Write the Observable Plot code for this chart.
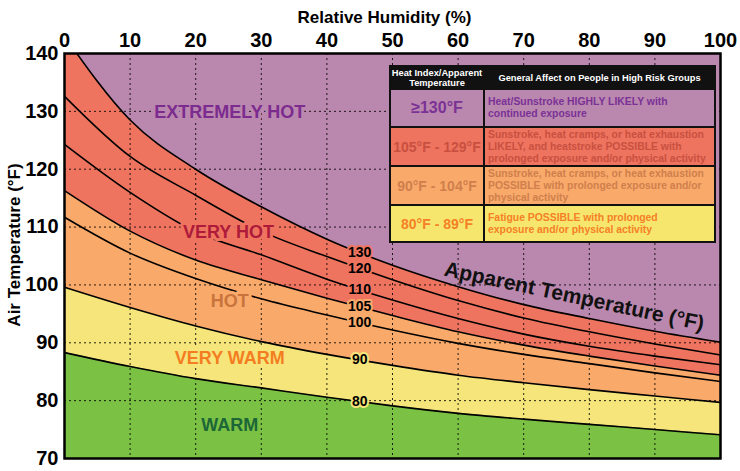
<!DOCTYPE html>
<html><head><meta charset="utf-8">
<script src="https://cdn.jsdelivr.net/npm/d3@7"></script>
<script src="https://cdn.jsdelivr.net/npm/@observablehq/plot@0.6"></script>
<style>
html,body{margin:0;padding:0;background:#fff;}
#wrap{position:relative;width:740px;height:471px;font-family:"Liberation Sans",Arial,Helvetica,sans-serif;overflow:hidden;}
#wrap svg g[aria-label="x-axis tick label"],
#wrap svg g[aria-label="y-axis tick label"]{font-size:20px;font-weight:bold;fill:#000;}
#legend{position:absolute;left:389px;top:65px;width:327px;background:#111;padding:2px;box-sizing:border-box;display:flex;flex-direction:column;gap:2px;}
#legend .row{display:flex;gap:2px;}
#legend .c1{width:92px;display:flex;align-items:center;justify-content:center;text-align:center;font-weight:bold;}
#legend .c2{flex:1;display:flex;align-items:center;padding-left:3px;font-weight:bold;font-size:10.4px;line-height:12px;white-space:pre-line;}
#legend .hdr .c1,#legend .hdr .c2{color:#fff;font-size:9.3px;line-height:10px;background:#111;}
#legend .hdr .c2{justify-content:center;padding-left:0;}
</style></head><body>
<div id="wrap"></div>
<script>
// ---- data ----
const humidity = [0, 10, 20, 30, 40, 50, 60, 70, 80, 90, 100];
const t80  = [88.3, 85.9, 83.8, 82.2, 80.6, 79.1, 77.8, 76.8, 75.9, 75.0, 74.1];
const t90  = [99.6, 96.1, 92.9, 90.2, 88.0, 86.1, 84.4, 83.1, 81.9, 80.8, 79.7];
const t100 = [111.7, 105.5, 101.1, 97.6, 94.8, 92.2, 89.9, 88.0, 86.4, 84.8, 83.3];
const t105 = [116.3, 109.3, 104.3, 100.9, 97.7, 94.7, 91.9, 89.6, 87.7, 86.0, 84.4];
const t110 = [124.3, 116.0, 109.2, 105.2, 101.0, 97.4, 94.2, 91.5, 89.4, 87.7, 86.2];
const t120 = [132.6, 122.2, 115.5, 109.3, 104.9, 100.9, 97.3, 94.3, 91.9, 89.8, 87.9];
const t130 = [143.0, 128.5, 120.0, 113.5, 107.9, 103.4, 99.7, 96.6, 94.2, 92.0, 90.1];

const xTicks = [0, 10, 20, 30, 40, 50, 60, 70, 80, 90, 100];
const yTicks = [70, 80, 90, 100, 110, 120, 130, 140];
const xGrid = [10, 20, 30, 40, 50, 60, 70, 80, 90];
const yGrid = [80, 90, 100, 110, 120, 130];

const curveNames = ["130", "120", "110", "105", "100", "90", "80"];
const regionNames = ["EXTREMELY HOT", "VERY HOT", "HOT", "VERY WARM", "WARM"];
const regionRH = [25.2, 25, 25.2, 25.2, 25.2];
const regionT = [129.8, 109.1, 97.2, 87.3, 75.8];

const legendRanges = ["\u2265130\u00B0F", "105\u00B0F - 129\u00B0F", "90\u00B0F - 104\u00B0F", "80\u00B0F - 89\u00B0F"];
const legendEffects = [
  "Heat/Sunstroke HIGHLY LIKELY with\ncontinued exposure",
  "Sunstroke, heat cramps, or heat exhaustion\nLIKELY, and heatstroke POSSIBLE with\nprolonged exposure and/or physical activity",
  "Sunstroke, heat cramps, or heat exhaustion\nPOSSIBLE with prolonged exposure and/or\nphysical activity",
  "Fatigue POSSIBLE with prolonged\nexposure and/or physical activity"
];

// ---- styles ----
const C = {purple: "#BA87AE", red: "#EE745F", orange: "#F9AA6B", yellow: "#F5E57A", green: "#7BC144"};
const regionColors = ["#7B2C8E", "#AE1A3A", "#C9743C", "#F47D22", "#1C6638"];
const regionHalo = [C.purple, C.red, C.orange, C.yellow, C.green];
const legendBg = [C.purple, C.red, C.orange, "#F6E66E"];
const legendText = ["#7A3296", "#C9503F", "#D07F4C", "#F58026"];
const legendRangeSize = [16, 14, 14, 14];

const rows = humidity.map((h, i) => ({rh: h, c80: t80[i], c90: t90[i], c100: t100[i], c105: t105[i], c110: t110[i], c120: t120[i], c130: t130[i]}));
const curves = [t130, t120, t110, t105, t100, t90, t80];
const curveHalo = [C.red, C.red, C.red, C.orange, C.orange, C.yellow, C.yellow];
const curveLabels = curveNames.map((n, i) => ({name: n, rh: (humidity[4] + humidity[5]) / 2, t: (curves[i][4] + curves[i][5]) / 2, halo: curveHalo[i]}));
const regions = regionNames.map((n, i) => ({name: n, rh: regionRH[i], t: regionT[i], color: regionColors[i], halo: regionHalo[i]}));

const cv = "monotone-x";
const marks = [
  Plot.frame({fill: C.purple, stroke: null}),
  Plot.areaY(rows, {x: "rh", y1: "c105", y2: "c130", fill: C.red, curve: cv, clip: true}),
  Plot.areaY(rows, {x: "rh", y1: "c90", y2: "c105", fill: C.orange, curve: cv, clip: true}),
  Plot.areaY(rows, {x: "rh", y1: "c80", y2: "c90", fill: C.yellow, curve: cv, clip: true}),
  Plot.areaY(rows, {x: "rh", y1: () => yTicks[0], y2: "c80", fill: C.green, curve: cv, clip: true}),
  Plot.gridX({ticks: xGrid, stroke: "#000", strokeOpacity: 0.85, strokeDasharray: "2,3", strokeWidth: 1}),
  Plot.gridY({ticks: yGrid, stroke: "#000", strokeOpacity: 0.85, strokeDasharray: "2,3", strokeWidth: 1}),
  ...["c130", "c120", "c110", "c105", "c100", "c90", "c80"].map(k =>
    Plot.line(rows, {x: "rh", y: k, stroke: "#000", strokeWidth: 1.6, curve: cv, clip: true})),
  Plot.text(curveLabels, {x: "rh", y: "t", text: "name", fontSize: 14, fontWeight: "bold", fill: "#000", stroke: d => d.halo, strokeWidth: 4, textAnchor: "middle"}),
  ...regions.map(r => Plot.text([r], {x: "rh", y: "t", text: "name", fontSize: 18, fontWeight: "bold", fill: r.color, stroke: r.halo, strokeWidth: 6})),
  Plot.text(["Apparent Temperature (\u00B0F)"], {x: () => 77.7, y: () => 98.0, text: d => d, rotate: 12, fontSize: 21, fontWeight: "bold", fill: "#111"}),
  Plot.frame({stroke: "#000", strokeWidth: 2.5}),
  Plot.axisX({anchor: "top", ticks: xTicks, tickSize: 0, tickPadding: 7, label: null}),
  Plot.axisY({ticks: yTicks, tickSize: 0, tickPadding: 6, label: null}),
  Plot.text(["Relative Humidity (%)"], {frameAnchor: "top", dy: -43, dx: -8, text: d => d, fontSize: 17, fontWeight: "bold", fill: "#000"}),
  Plot.text(["Air Temperature (\u00B0F)"], {frameAnchor: "left", textAnchor: "middle", dx: -50, dy: -11, rotate: -90, text: d => d, fontSize: 17, fontWeight: "bold", fill: "#000"})
];

const chart = Plot.plot({
  width: 740, height: 471,
  marginTop: 53, marginBottom: 13, marginLeft: 64, marginRight: 20,
  x: {domain: [xTicks[0], xTicks[xTicks.length - 1]]},
  y: {domain: [yTicks[0], yTicks[yTicks.length - 1]]},
  style: {fontFamily: "'Liberation Sans', Arial, Helvetica, sans-serif", background: "white", overflow: "visible"},
  marks
});
const wrap = document.getElementById("wrap");
wrap.appendChild(chart);

// legend table
const lg = d3.select(wrap).append("div").attr("id", "legend");
const hdr = lg.append("div").attr("class", "row hdr").style("height", "21px");
hdr.append("div").attr("class", "c1").html("Heat Index/Apparent<br>Temperature");
hdr.append("div").attr("class", "c2").text("General Affect on People in High Risk Groups");
const rowH = [36, 37, 37, 35];
legendRanges.forEach((r, i) => {
  const row = lg.append("div").attr("class", "row").style("height", rowH[i] + "px");
  row.append("div").attr("class", "c1").style("background", legendBg[i]).style("color", legendText[i]).style("font-size", legendRangeSize[i] + "px").text(r);
  row.append("div").attr("class", "c2").style("background", legendBg[i]).style("color", legendText[i]).text(legendEffects[i]);
});
</script>
</body></html>
